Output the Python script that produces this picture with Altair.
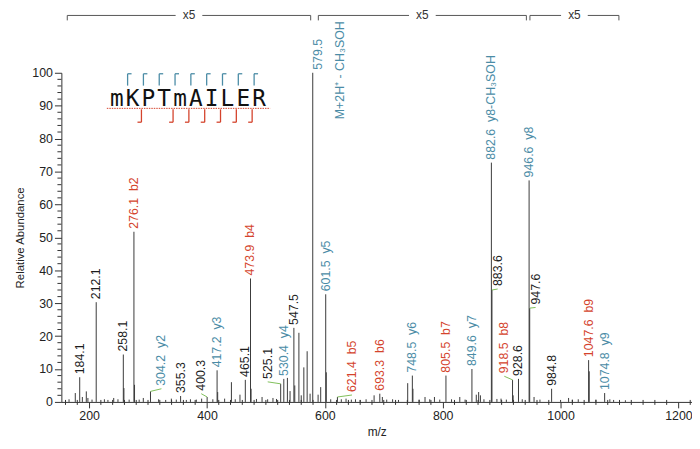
import altair as alt
import pandas as pd

# ---------------- data ----------------
peak_mz = [
    166.0, 176.6, 184.1, 188.6, 195.3, 198.0, 205.0, 212.1, 226.0, 232.0, 241.8, 249.0,
    258.1, 259.1, 268.0, 276.1, 277.1, 285.0, 292.0, 304.2, 318.0, 330.0, 339.6, 348.0,
    355.3, 365.0, 372.0, 382.0, 391.0, 400.3, 410.0, 417.2, 418.2, 430.0, 441.5, 448.0,
    456.0, 465.1, 473.9, 474.9, 484.0, 493.5, 503.0, 512.0, 518.0, 525.1, 530.4, 536.5,
    541.0, 547.5, 549.0, 556.0, 560.0, 564.4, 570.0, 575.0, 579.5, 588.6, 593.0, 601.5,
    602.5, 610.0, 621.4, 628.0, 636.0, 645.0, 652.0, 660.0, 670.0, 683.6, 693.3, 697.6,
    705.0, 715.0, 725.0, 740.6, 748.5, 749.5, 760.0, 770.0, 778.0, 786.0, 795.0, 805.5,
    815.0, 829.0, 838.0, 849.6, 857.0, 861.0, 864.0, 870.0, 882.6, 883.6, 892.0, 899.0,
    908.0, 918.5, 919.5, 928.6, 935.0, 946.6, 947.6, 955.0, 965.0, 984.8, 1000.0, 1013.6,
    1020.0, 1030.0, 1047.6, 1048.6, 1060.0, 1074.8, 1083.6, 1090.0, 1110.0,
]
peak_int = [
    0.8, 2.7, 7.5, 1.5, 3.2, 1.2, 0.7, 30.3, 0.8, 0.6, 1.2, 0.8,
    14.4, 4.2, 0.7, 51.7, 5.2, 0.7, 1.2, 3.2, 0.8, 0.6, 1.0, 0.7,
    1.8, 0.6, 0.8, 0.7, 1.0, 1.5, 0.8, 9.6, 3.0, 1.0, 6.0, 0.8,
    2.2, 6.7, 37.5, 4.0, 0.9, 1.5, 0.8, 1.2, 0.9, 5.5, 7.0, 7.3,
    3.3, 22.5, 5.0, 21.0, 2.0, 10.5, 15.4, 2.5, 100.0, 2.2, 4.5, 32.7,
    9.0, 0.8, 1.5, 0.8, 1.0, 0.7, 0.8, 0.6, 0.8, 2.0, 2.5, 1.5,
    0.7, 0.8, 0.6, 5.7, 8.0, 4.0, 0.7, 1.5, 0.8, 1.5, 0.7, 8.0,
    0.8, 1.5, 0.7, 10.0, 2.2, 3.0, 2.0, 0.8, 72.7, 34.0, 0.9, 1.0,
    0.7, 6.7, 2.0, 7.0, 0.8, 67.3, 28.5, 1.5, 0.7, 4.0, 0.6, 1.2,
    0.7, 0.8, 12.7, 9.3, 0.7, 2.7, 0.8, 0.6, 0.5,
]

label_mz = [184.1, 212.1, 258.1, 276.1, 304.2, 355.3, 400.3, 417.2, 465.1, 473.9,
            525.1, 530.4, 547.5, 579.5, 601.5, 621.4, 693.3, 748.5, 805.5, 849.6,
            882.6, 883.6, 918.5, 928.6, 946.6, 947.6, 984.8, 1047.6, 1074.8]
label_ion = ["", "", "", "b2", "y2", "", "", "y3", "", "b4",
             "", "y4", "", "", "y5", "b5", "b6", "y6", "b7", "y7",
             "y8-CH\u2083SOH", "", "b8", "", "y8", "", "", "b9", "y9"]
label_kind = ["n", "n", "n", "b", "y", "n", "n", "y", "n", "b",
              "n", "y", "n", "y", "y", "b", "b", "y", "b", "y",
              "y", "n", "b", "n", "y", "n", "n", "b", "y"]
precursor_note = "M+2H\u207a - CH\u2083SOH"
precursor_mz = 579.5

sequence = list("mKPTmAILER")
y_sites = [1, 2, 3, 4, 5, 6, 7, 8, 9]
b_sites = [2, 4, 5, 6, 7, 8, 9]

zoom_ranges = [(163, 576), (589, 942), (948, 1099)]
zoom_text = "x5"

x_tick_values = [200, 400, 600, 800, 1000, 1200]
y_tick_values = [0, 10, 20, 30, 40, 50, 60, 70, 80, 90, 100]

# ---------------- layout helpers (annotation placement) ----------------
label_shift = {  # (m/z shift, abundance shift) of moved labels
    304.2: (18.6, 0.8), 400.3: (-10.0, 1.0), 525.1: (-22.0, 0.6),
    621.4: (24.7, 0.6), 883.6: (9.7, 0.3), 918.5: (-14.0, 1.1),
    947.6: (10.0, 0.2), 579.5: (9.5, 0.0),
}
connector_set = {304.2, 400.3, 525.1, 621.4, 883.6, 918.5, 947.6}

W, H = 638, 333
X0, X1 = 153, 1223
px_per_mz = W / (X1 - X0)
px_per_unit = H / 100.0

RED = "#d4432c"
BLUE = "#4b8ca6"
BLACK = "#1c1c1c"
GREEN = "#7fbf5a"
FONT = "Liberation Sans"

xs = alt.Scale(domain=[X0, X1], nice=False, zero=False)
ys = alt.Scale(domain=[0, 100], nice=False)

AXX = alt.Axis(values=x_tick_values, format="d", tickSize=6,
               labelFontSize=12.5, labelColor="#222", labelFont=FONT,
               labelPadding=2, labelOverlap=False, labelFlush=False,
               title="m/z", titleFont=FONT,
               titleFontSize=12, titleFontWeight="normal", titleColor="#222",
               titlePadding=4, domainColor="#333", tickColor="#333", grid=False)
AXY = alt.Axis(values=y_tick_values, format="d", tickSize=7,
               labelFontSize=12.5, labelColor="#222", labelFont=FONT,
               labelPadding=2, labelOverlap=False, labelFlush=False,
               title="Relative Abundance", titleFont=FONT,
               titleFontSize=11.5, titleFontWeight="normal", titleColor="#222",
               titlePadding=6, domainColor="#333", tickColor="#333", grid=False)


def X(f):
    return alt.X(f, scale=xs, axis=AXX)


def Y(f):
    return alt.Y(f, scale=ys, axis=AXY)


inten = dict(zip(peak_mz, peak_int))

# ---------------- peaks ----------------
peaks_df = pd.DataFrame({"mz": peak_mz, "inten": peak_int})
peaks = alt.Chart(peaks_df).mark_rule(color="#3a3a3a", strokeWidth=1).encode(
    x=X("mz:Q"), y=Y("inten:Q"), y2=alt.datum(0))

# minor ticks
ymin_df = pd.DataFrame({"v": [v for v in range(0, 101, 2) if v % 10 != 0]})
ymin = alt.Chart(ymin_df).mark_rule(color="#333", strokeWidth=1).encode(
    y=Y("v:Q"), x=alt.value(-4), x2=alt.value(0))
xmin_df = pd.DataFrame({"v": [v for v in range(160, 1221, 20) if v % 200 != 0]})
xmin = alt.Chart(xmin_df).mark_rule(color="#333", strokeWidth=1).encode(
    x=X("v:Q"), y=alt.value(H - 2), y2=alt.value(H + 3))

# ---------------- labels ----------------
rows, conn = [], []
for mz, ion, kind in zip(label_mz, label_ion, label_kind):
    top = inten[mz]
    dmz, dint = label_shift.get(mz, (0.0, 0.0))
    text = f"{mz:.1f}" + (f"\u00a0 {ion}" if ion else "")
    rows.append({"x": mz + dmz, "y": top + dint, "t": text, "k": kind})
    if mz in connector_set:
        conn.append({"x": mz, "y": top, "x2": mz + dmz, "y2": top + dint})
rows.append({"x": precursor_mz + 47, "y": 85.0, "t": precursor_note, "k": "y"})
lab_df = pd.DataFrame(rows)
labels = alt.Chart(lab_df).mark_text(angle=270, align="left", baseline="middle", dx=3,
                                     font=FONT, fontSize=12.5).encode(
    x=X("x:Q"), y=Y("y:Q"), text="t:N",
    color=alt.Color("k:N", scale=alt.Scale(domain=["n", "b", "y"], range=[BLACK, RED, BLUE]),
                    legend=None))
conn_df = pd.DataFrame(conn)
connectors = alt.Chart(conn_df).mark_rule(color=GREEN, strokeWidth=1).encode(
    x=X("x:Q"), y=Y("y:Q"), x2="x2:Q", y2="y2:Q")

# ---------------- sequence inset ----------------
res_w = 16 / px_per_mz                  # one residue in m/z units
seq_left = (110 - 62) / px_per_mz + X0   # left edge of the sequence
base_y = 100 - (105 - 71) / px_per_unit
seq_df = pd.DataFrame({"x": [seq_left + (i + 0.5) * res_w for i in range(len(sequence))],
                       "y": [base_y] * len(sequence), "t": sequence})
seq_text = alt.Chart(seq_df).mark_text(font="DejaVu Sans Mono", fontSize=23, align="center",
                                       baseline="alphabetic", color="#111").encode(
    x=X("x:Q"), y=Y("y:Q"), text="t:N")

line_y = base_y - 2 / px_per_unit
underline = alt.Chart(pd.DataFrame({"x": [seq_left - 2 / px_per_mz],
                                    "x2": [seq_left + (len(sequence) + 0.2) * res_w],
                                    "y": [line_y]})).mark_rule(
    color=RED, strokeWidth=1, strokeDash=[1.5, 1]).encode(
    x=X("x:Q"), x2="x2:Q", y=Y("y:Q"))

hook = 4 / px_per_mz
seg = []
for k in y_sites:
    xk = seq_left + k * res_w + 3 / px_per_mz
    y_lo = 100 - (84 - 71) / px_per_unit
    y_hi = 100 - (72 - 71) / px_per_unit
    seg.append({"x": xk, "x2": xk, "y": y_lo, "y2": y_hi, "c": "y"})
    seg.append({"x": xk, "x2": xk + hook, "y": y_hi, "y2": y_hi, "c": "y"})
for k in b_sites:
    xk = seq_left + k * res_w + 1 / px_per_mz
    y_hi = 100 - (108 - 71) / px_per_unit
    y_lo = 100 - (121 - 71) / px_per_unit
    seg.append({"x": xk, "x2": xk, "y": y_hi, "y2": y_lo, "c": "b"})
    seg.append({"x": xk - hook, "x2": xk, "y": y_lo, "y2": y_lo, "c": "b"})
seg_df = pd.DataFrame(seg)
frag_marks = alt.Chart(seg_df).mark_rule(strokeWidth=1.3).encode(
    x=X("x:Q"), x2="x2:Q", y=Y("y:Q"), y2="y2:Q",
    color=alt.Color("c:N", scale=alt.Scale(domain=["b", "y"], range=[RED, BLUE]), legend=None))

# ---------------- x5 brackets ----------------
br_y = 100 + (71 - 13) / px_per_unit
br_tick = 5 / px_per_unit
gap = 13.5 / px_per_mz
bseg, btxt = [], []
for a, b in zoom_ranges:
    m = (a + b) / 2
    bseg.append({"x": a, "x2": m - gap, "y": br_y, "y2": br_y})
    bseg.append({"x": m + gap, "x2": b, "y": br_y, "y2": br_y})
    bseg.append({"x": a, "x2": a, "y": br_y, "y2": br_y - br_tick})
    bseg.append({"x": b, "x2": b, "y": br_y, "y2": br_y - br_tick})
    btxt.append({"x": m, "y": br_y, "t": zoom_text})
brackets = alt.Chart(pd.DataFrame(bseg)).mark_rule(color="#555", strokeWidth=1).encode(
    x=X("x:Q"), x2="x2:Q", y=Y("y:Q"), y2="y2:Q")
br_text = alt.Chart(pd.DataFrame(btxt)).mark_text(font=FONT, fontSize=12, color="#333",
                                                  baseline="middle", align="center").encode(
    x=X("x:Q"), y=Y("y:Q"), text="t:N")

chart = alt.layer(
    peaks, ymin, xmin, connectors, labels, underline, seq_text, frag_marks, brackets, br_text
).resolve_scale(color="independent").properties(
    width=W, height=H,
    padding={"left": 54, "top": 63, "right": 0, "bottom": 37},
    autosize=alt.AutoSizeParams(type="none"),
).configure_view(stroke=None)

chart.save("out.html", embed_options={"renderer": "svg", "actions": False})
